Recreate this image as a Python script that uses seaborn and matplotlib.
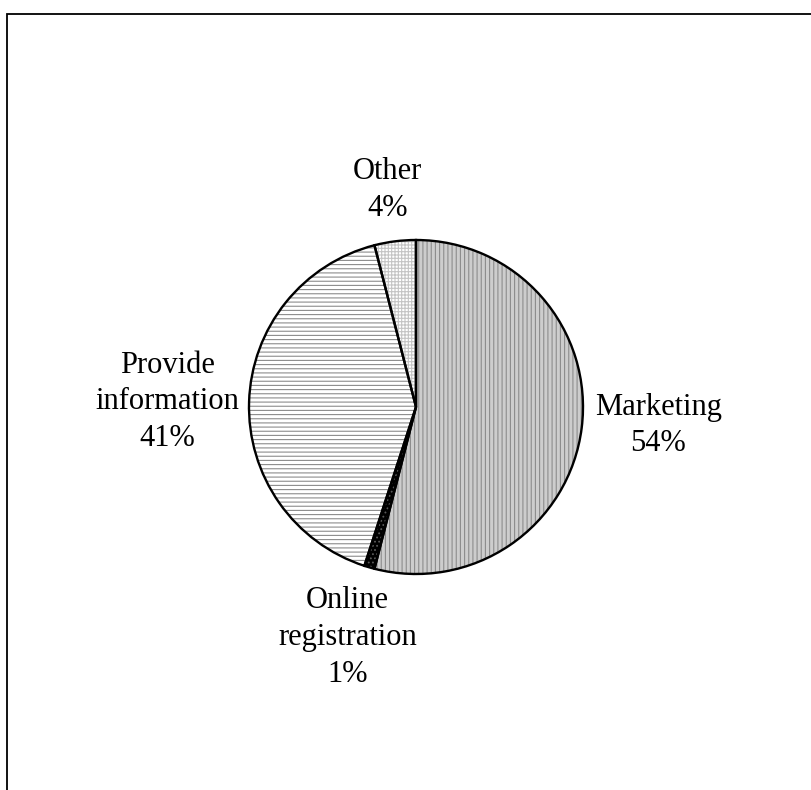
import matplotlib
matplotlib.use("Agg")
import matplotlib.pyplot as plt
from matplotlib.patches import Rectangle
import seaborn as sns

# Share of website purposes
categories = ["Marketing", "Online\nregistration", "Provide\ninformation", "Other"]
shares = [54, 1, 41, 4]

fill_colors = ["#cdcdcd", "#000000", "#ffffff", "#ffffff"]
hatch_colors = ["#8c8c8c", "#5a5a5a", "#8c8c8c", "#c4c4c4"]
hatches = ["||||", "....", "----", "+++++"]

# label anchor points in pie units (radius = 1)
label_xy = [(1.45, -0.11), (-0.41, -1.38), (-1.49, 0.03), (-0.17, 1.30)]

sns.set_theme(style="white")
plt.rcParams["font.family"] = ["Liberation Serif", "DejaVu Serif"]
plt.rcParams["hatch.linewidth"] = 0.8

W, H = 812, 790
fig = plt.figure(figsize=(W / 100, H / 100), dpi=100)
fig.patch.set_facecolor("white")

# outer chart frame (open towards right and bottom edges)
fig.patches.append(Rectangle((7 / W, -0.2), 1.2, 1.2 - 14 / H,
                             transform=fig.transFigure, fill=False,
                             edgecolor="black", linewidth=1.3))

cx, cy, r = 416, 407, 167
side = 2.5 * r
ax = fig.add_axes([(cx - side / 2) / W, (H - cy - side / 2) / H, side / W, side / H])

labels = [f"{c}\n{v}%" for c, v in zip(categories, shares)]

# base fills
ax.pie(shares, startangle=90, counterclock=False, colors=fill_colors,
       wedgeprops=dict(linewidth=0, edgecolor="none"))

# hatch layer
hw, _ = ax.pie(shares, startangle=90, counterclock=False,
               wedgeprops=dict(linewidth=0, facecolor="none"))
for w, h, c in zip(hw, hatches, hatch_colors):
    w.set_hatch(h)
    w.set_edgecolor(c)
    w.set_linewidth(0)

# outlines and labels
ow, texts = ax.pie(shares, startangle=90, counterclock=False, labels=labels,
                   wedgeprops=dict(linewidth=1.7, facecolor="none", edgecolor="black"),
                   textprops=dict(fontsize=22, color="black", linespacing=1.35))
for t, xy in zip(texts, label_xy):
    t.set_position(xy)
    t.set_horizontalalignment("center")
    t.set_verticalalignment("center")

ax.set_xlim(-1.25, 1.25)
ax.set_ylim(-1.25, 1.25)
ax.set_aspect("equal")

fig.savefig("out.png", dpi=100, facecolor="white")
